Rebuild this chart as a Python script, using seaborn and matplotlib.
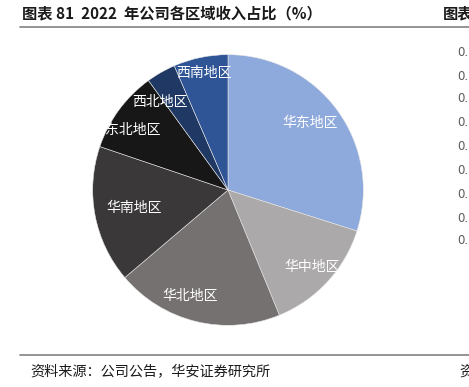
import numpy as np
import matplotlib
matplotlib.use("Agg")
import matplotlib.pyplot as plt
import seaborn as sns

regions = ["华东地区", "华中地区", "华北地区", "华南地区", "东北地区", "西北地区", "西南地区"]
shares = [29.9, 13.9, 20.0, 16.4, 9.8, 3.5, 6.5]
colors = ["#8EA9DB", "#ABA9A9", "#767171", "#3A3838", "#171717", "#1F3864", "#2F5597"]
label_r = [0.78, 0.84, 0.83, 0.71, 0.83, 0.82, 0.88]
label_da = [3, 0, -6, 0, 4, 8, 0]

title = "图表 81  2022  年公司各区域收入占比（%）"
source = "资料来源：公司公告，华安证券研究所"

sns.set_theme(style="white")
plt.rcParams['font.family'] = ['Noto Sans CJK SC', 'DejaVu Sans']

fig = plt.figure(figsize=(4.69, 3.87), dpi=100)
ax = fig.add_axes([(228 - 136) / 469, (387 - 190 - 136) / 387, 272 / 469, 272 / 387])

wedges, _ = ax.pie(shares, colors=sns.color_palette(colors), startangle=90, counterclock=False,
                   wedgeprops=dict(edgecolor="#e8e8e8", linewidth=0.4))
ax.set_xlim(-1.005, 1.005)
ax.set_ylim(-1.005, 1.005)
ax.set_aspect("equal")

for w, name, r, da in zip(wedges, regions, label_r, label_da):
    ang = np.deg2rad((w.theta1 + w.theta2) / 2 + da)
    ax.text(r * np.cos(ang), r * np.sin(ang), name, color="white", fontsize=10,
            ha="center", va="center")

# Title and header line
fig.text(22 / 469, 1 - 13.5 / 387, title, fontsize=11, fontweight="bold", color="#1a1a1a",
         ha="left", va="center")
fig.text(443 / 469, 1 - 13.5 / 387, "图表", fontsize=11, fontweight="bold", color="#1a1a1a",
         ha="left", va="center")
fig.add_artist(plt.Line2D([20 / 469, 1], [1 - 26.5 / 387] * 2, color="#8c8c8c", linewidth=1.3))

# Cut-off axis labels of neighbouring chart
for yp in [53, 76, 99, 123, 147, 171, 194, 218, 241]:
    fig.text(457 / 469, 1 - yp / 387, "0.", fontsize=8.5, color="#595959", ha="left", va="center",
             family="DejaVu Sans")

# Footer
fig.add_artist(plt.Line2D([20 / 469, 1], [1 - 354.5 / 387] * 2, color="#8c8c8c", linewidth=1.3))
fig.text(30 / 469, 1 - 372 / 387, source, fontsize=10.2, color="#1a1a1a", ha="left", va="center")
fig.text(459 / 469, 1 - 372 / 387, "资", fontsize=10.2, color="#1a1a1a", ha="left", va="center")

fig.savefig("out.png", dpi=100)
